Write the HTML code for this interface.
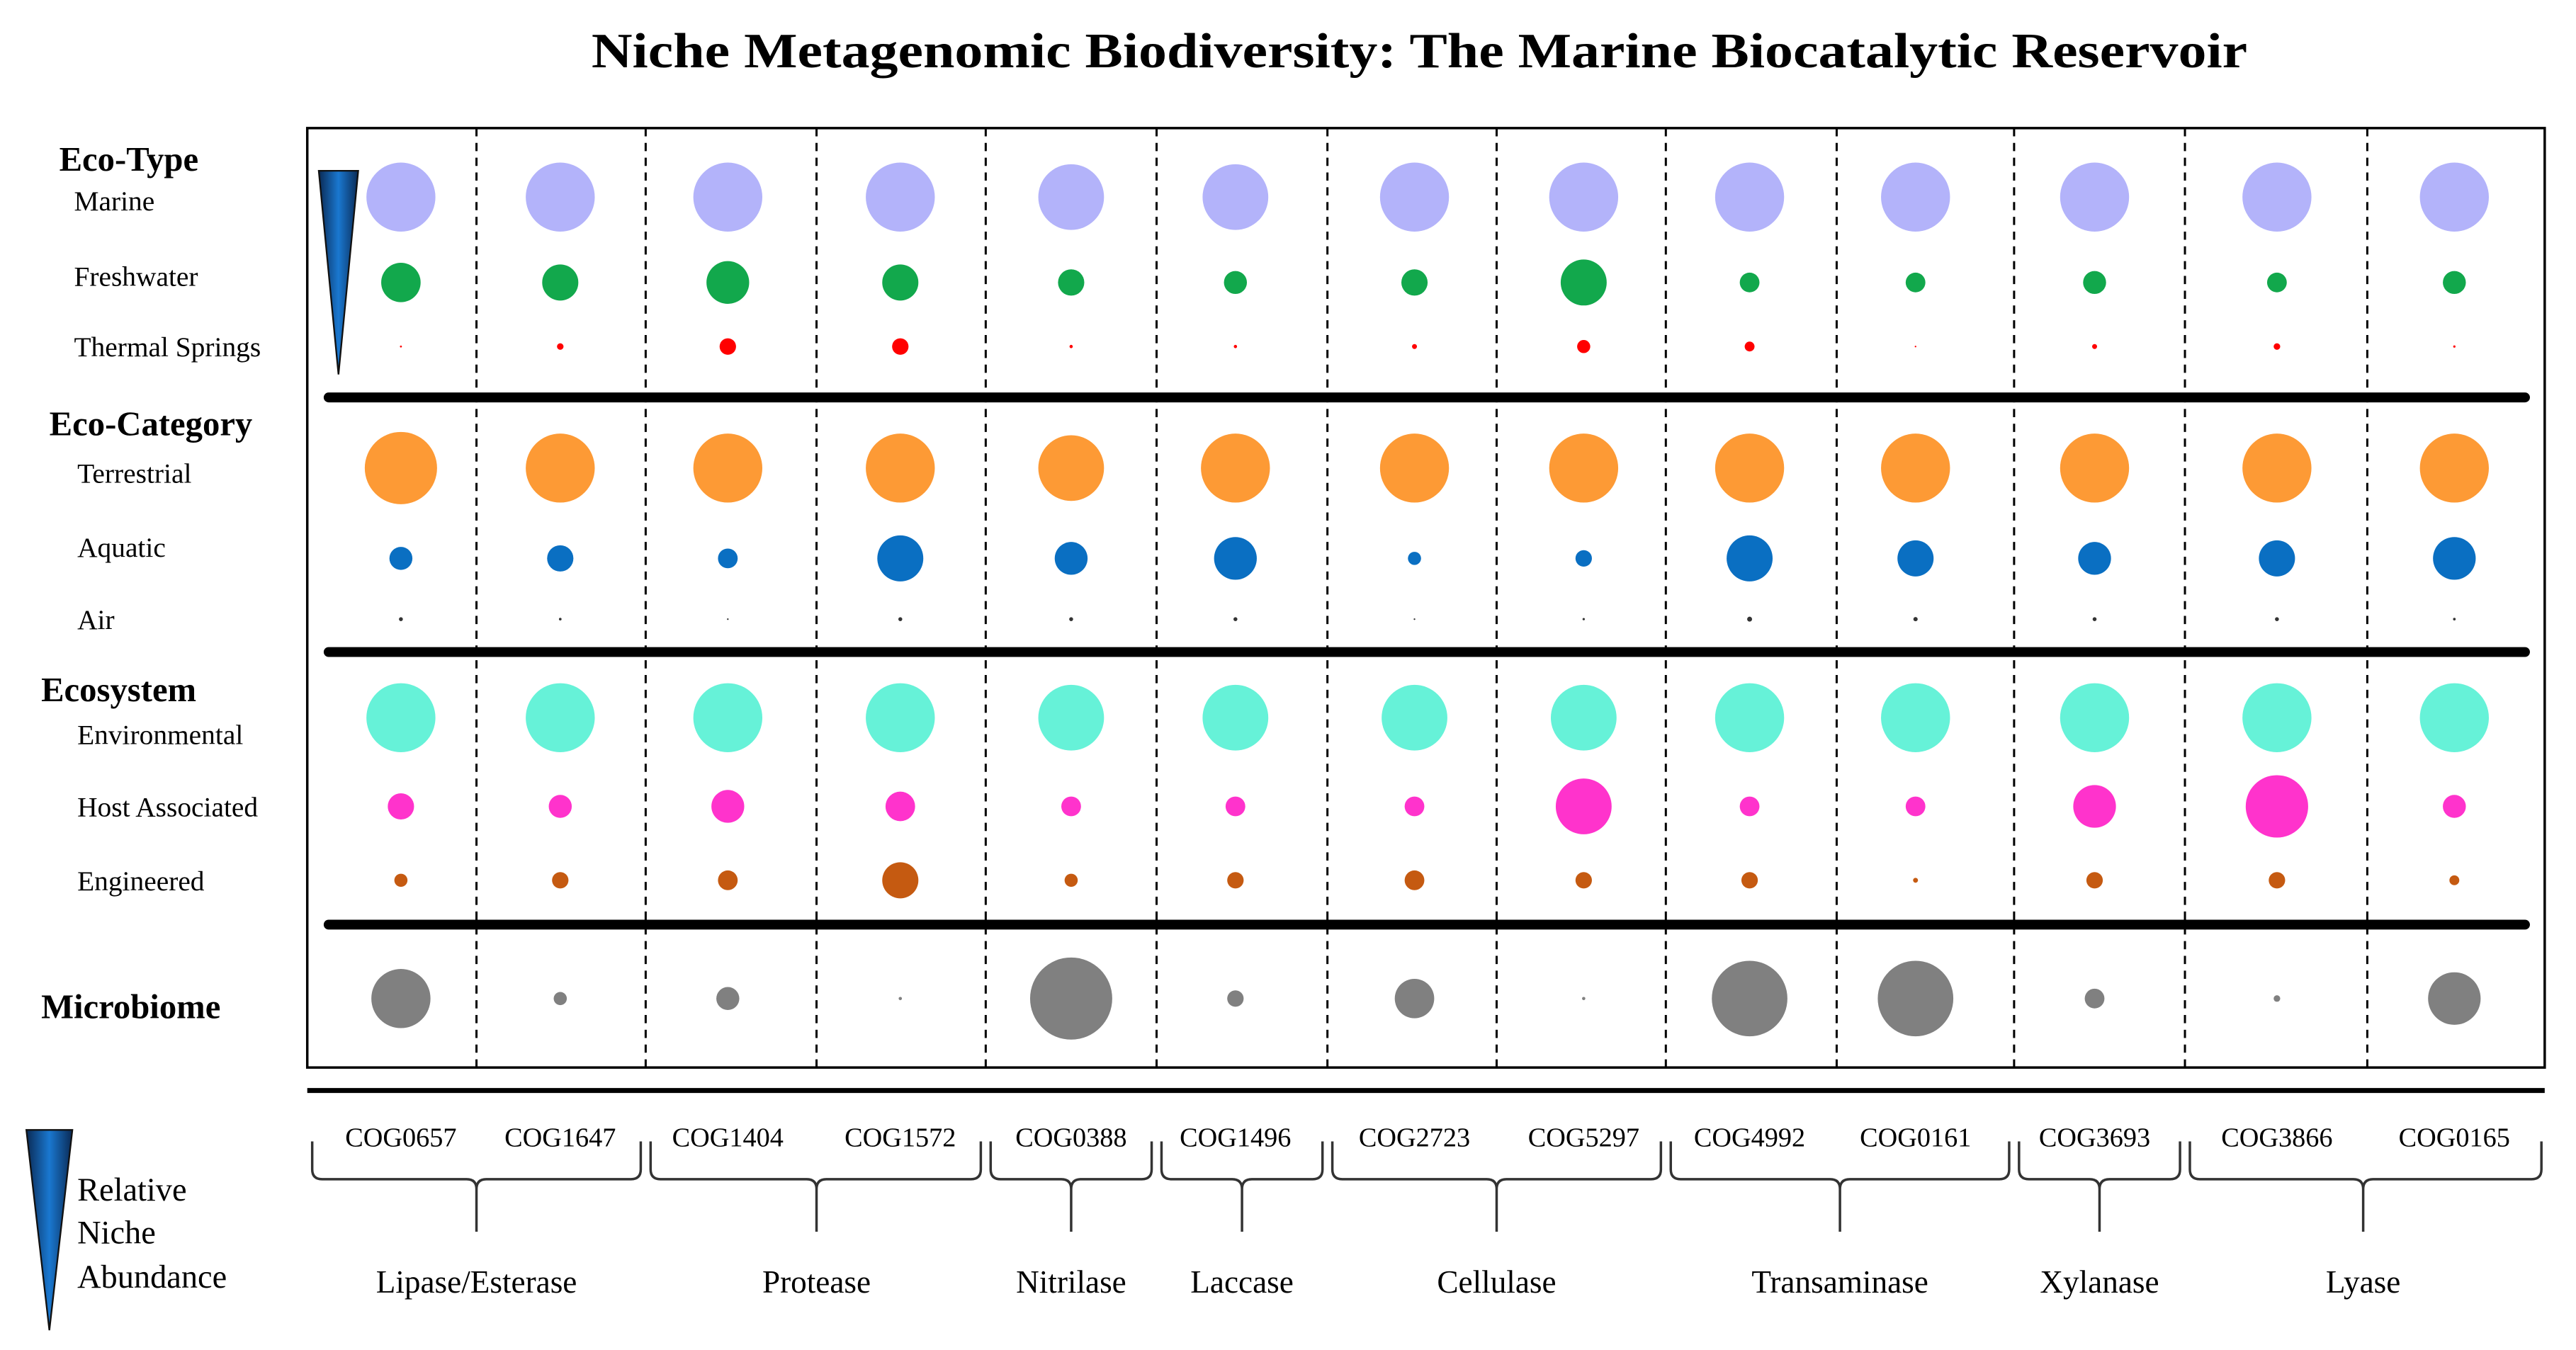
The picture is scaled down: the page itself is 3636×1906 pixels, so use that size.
<!DOCTYPE html>
<html><head><meta charset="utf-8"><style>
html,body{margin:0;padding:0;background:#fff;}
svg{display:block;}
text{font-family:"Liberation Serif",serif;fill:#000;}
</style></head><body>
<svg id="chart" width="3636" height="1906" viewBox="0 0 1568 822" xmlns="http://www.w3.org/2000/svg">
<defs>
<linearGradient id="tri" x1="0" x2="1" y1="0" y2="0">
<stop offset="0" stop-color="#0a2a55"/><stop offset="0.5" stop-color="#1a78d0"/><stop offset="1" stop-color="#0a2a55"/>
</linearGradient>
</defs>
<text x="360" y="41" font-size="30" font-weight="bold" textLength="1008" lengthAdjust="spacingAndGlyphs">Niche Metagenomic Biodiversity:  The Marine Biocatalytic Reservoir</text>
<rect x="187" y="78" width="1362" height="572" fill="none" stroke="#000" stroke-width="1.5"/>
<g id="grid"></g>
<g id="dots"></g>
<polygon points="194,104 218,104 206,228" fill="url(#tri)" stroke="#111" stroke-width="1"/>
<g>
<text x="36" y="104" font-size="21" font-weight="bold">Eco-Type</text>
<text x="45" y="128" font-size="17">Marine</text>
<text x="45" y="174" font-size="17">Freshwater</text>
<text x="45" y="217" font-size="17">Thermal Springs</text>
<text x="30" y="265" font-size="21" font-weight="bold">Eco-Category</text>
<text x="47" y="294" font-size="17">Terrestrial</text>
<text x="47" y="339" font-size="17">Aquatic</text>
<text x="47" y="383" font-size="17">Air</text>
<text x="25" y="427" font-size="21" font-weight="bold">Ecosystem</text>
<text x="47" y="453" font-size="17">Environmental</text>
<text x="47" y="497" font-size="17">Host Associated</text>
<text x="47" y="542" font-size="17">Engineered</text>
<text x="25" y="620" font-size="21" font-weight="bold">Microbiome</text>
</g>
<line x1="187" y1="664" x2="1549" y2="664" stroke="#000" stroke-width="3"/>
<g id="xlabels"></g>
<g id="braces"></g>
<polygon points="16,688 44,688 30,810" fill="url(#tri)" stroke="#111" stroke-width="1"/>
<g>
<text x="47" y="731" font-size="20">Relative</text>
<text x="47" y="757" font-size="20">Niche</text>
<text x="47" y="784" font-size="20">Abundance</text>
</g>
</svg>
<script>
const cogs = ["COG0657","COG1647","COG1404","COG1572","COG0388","COG1496","COG2723","COG5297","COG4992","COG0161","COG3693","COG3866","COG0165"];
const rowNames = ["Marine","Freshwater","Thermal Springs","Terrestrial","Aquatic","Air","Environmental","Host Associated","Engineered","Microbiome"];
const rowColors = ["#b3b3fa","#12a84c","#ff0000","#fd9a35","#0a6fc2","#333333","#66f2d8","#ff33cc","#c55a11","#808080"];
const marine = [21,21,21,21,20,20,21,21,21,21,21,21,21];
const freshwater = [12,11,13,11,8,7,8,14,6,6,7,6,7];
const thermal = [0.6,2,5,5,1,1,1.5,4,3,0.5,1.5,2,0.7];
const terrestrial = [22,21,21,21,20,21,21,21,21,21,21,21,21];
const aquatic = [7,8,6,14,10,13,4,5,14,11,10,11,13];
const air = [1.2,0.8,0.5,1.2,1.2,1.2,0.5,0.7,1.5,1.3,1.2,1.2,0.8];
const environmental = [21,21,21,21,20,20,20,20,21,21,21,21,21];
const hostAssociated = [8,7,10,9,6,6,6,17,6,6,13,19,7];
const engineered = [4,5,6,11,4,5,6,5,5,1.5,5,5,3];
const microbiome = [18,4,7,1,25,5,12,1,23,23,6,2,16];
const groupNames = ["Lipase/Esterase","Protease","Nitrilase","Laccase","Cellulase","Transaminase","Xylanase","Lyase"];
const groupStart = [0,2,4,5,6,8,10,11];
const groupEnd = [1,3,4,5,7,9,10,12];

const series = [marine,freshwater,thermal,terrestrial,aquatic,air,environmental,hostAssociated,engineered,microbiome];
const NS="http://www.w3.org/2000/svg";
const colCenters = [244,341,443,548,652,752,861,964,1065,1166,1275,1386,1494];
const colBounds = [190,290,393,497,600,704,808,911,1014,1118,1226,1330,1441,1547];
const rowY = [120,172,211,285,340,377,437,491,536,608];
function xPos(i){return colCenters[i];}
function yPos(r){return rowY[r];}
function rScale(v){return v;}
function mk(tag,attrs,parent){const e=document.createElementNS(NS,tag);for(const k in attrs)e.setAttribute(k,attrs[k]);parent.appendChild(e);return e;}

const grid=document.getElementById('grid');
for(let i=1;i<colBounds.length-1;i++){
  const l=mk('line',{x1:colBounds[i],y1:78,x2:colBounds[i],y2:650,stroke:'#000','stroke-width':1.3,'stroke-dasharray':'5,4'},grid);
  
  
}
[242,397,563].forEach(y=>{
  const l=mk('line',{x1:200,y1:y,x2:1537,y2:y,stroke:'#000','stroke-width':6,'stroke-linecap':'round'},grid);
  
  
});

const dots=document.getElementById('dots');
series.forEach((arr,r)=>{
  arr.forEach((v,i)=>{
    const c=mk('circle',{cx:xPos(i),cy:yPos(r),r:Math.max(rScale(v),0.4),fill:rowColors[r]},dots);
    
    
  });
});

const xl=document.getElementById('xlabels');
cogs.forEach((c,i)=>{
  const t=mk('text',{x:xPos(i),y:698,'text-anchor':'middle','font-size':16.5},xl);
  t.textContent=c;
  
  
});

const br=document.getElementById('braces');
groupNames.forEach((g,k)=>{
  const x0=colBounds[groupStart[k]]+ (groupStart[k]===0?0:3);
  const x1=colBounds[groupEnd[k]+1]- (groupEnd[k]===12?0:3);
  const xm=(k===0)?290:(k===1)?497:(colBounds[groupStart[k]]+colBounds[groupEnd[k]+1])/2;
  const d=`M${x0},695 L${x0},712 Q${x0},718 ${x0+6},718 L${xm-6},718 Q${xm},718 ${xm},724 L${xm},750 M${xm},724 Q${xm},718 ${xm+6},718 L${x1-6},718 Q${x1},718 ${x1},712 L${x1},695`;
  const p=mk('path',{d:d,fill:'none',stroke:'#333','stroke-width':1.5},br);
  
  
  const t=mk('text',{x:xm,y:787,'text-anchor':'middle','font-size':19.5},br);
  t.textContent=g;
  
  
});
</script>
</body></html>
